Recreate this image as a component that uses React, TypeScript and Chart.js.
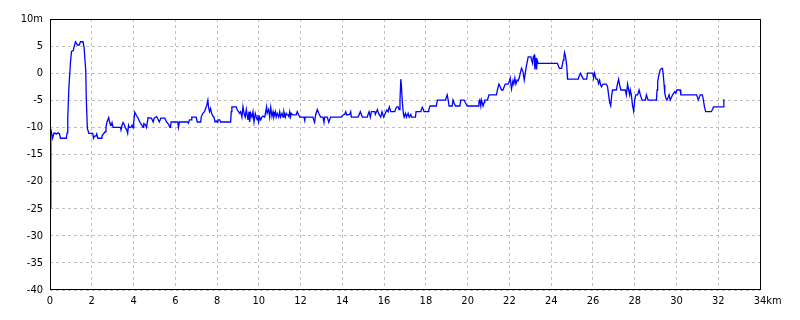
import { useEffect, useRef } from "react";
import { Chart, registerables } from "chart.js";

Chart.register(...registerables);

const distanceKm = [
  0, 0.01, 0.05, 0.12, 0.2, 0.3, 0.4, 0.45, 0.5, 0.78,
  0.82, 0.85, 0.9, 0.98, 1.03, 1.12, 1.15, 1.22, 1.27, 1.31,
  1.4, 1.46, 1.58, 1.63, 1.71, 1.74, 1.79, 1.86, 2.05, 2.08,
  2.13, 2.2, 2.24, 2.29, 2.45, 2.49, 2.56, 2.64, 2.68, 2.73,
  2.77, 2.81, 2.86, 2.9, 2.93, 2.97, 3.02, 3.37, 3.4, 3.45,
  3.5, 3.57, 3.61, 3.68, 3.72, 3.76, 3.8, 3.88, 3.93, 3.98,
  4.01, 4.06, 4.14, 4.22, 4.3, 4.38, 4.46, 4.49, 4.57, 4.62,
  4.7, 4.78, 4.86, 4.94, 4.99, 5.1, 5.15, 5.23, 5.31, 5.5,
  5.58, 5.69, 5.74, 5.77, 5.8, 6.12, 6.15, 6.2, 6.6, 6.63,
  6.68, 6.76, 6.79, 7.0, 7.05, 7.22, 7.24, 7.32, 7.4, 7.45,
  7.51, 7.56, 7.59, 7.64, 7.69, 7.74, 7.8, 7.85, 7.88, 7.91,
  7.96, 8.0, 8.04, 8.12, 8.17, 8.65, 8.68, 8.71, 8.92, 8.96,
  9.03, 9.08, 9.13, 9.19, 9.24, 9.29, 9.35, 9.4, 9.44, 9.48,
  9.53, 9.56, 9.61, 9.67, 9.72, 9.77, 9.83, 9.88, 9.92, 9.96,
  9.99, 10.04, 10.09, 10.15, 10.2, 10.28, 10.33, 10.37, 10.4, 10.47,
  10.52, 10.57, 10.63, 10.68, 10.72, 10.79, 10.83, 10.88, 10.95, 11.0,
  11.04, 11.11, 11.16, 11.2, 11.27, 11.31, 11.36, 11.4, 11.44, 11.48,
  11.52, 11.55, 11.63, 11.79, 11.84, 11.91, 11.96, 12.16, 12.2, 12.22,
  12.59, 12.64, 12.67, 12.72, 12.8, 12.87, 12.91, 12.96, 13.07, 13.12,
  13.15, 13.28, 13.35, 13.39, 13.44, 13.95, 14.03, 14.11, 14.16, 14.21,
  14.35, 14.4, 14.43, 14.75, 14.81, 14.86, 14.91, 14.96, 15.2, 15.23,
  15.28, 15.34, 15.39, 15.55, 15.58, 15.63, 15.68, 15.71, 15.76, 15.84,
  15.9, 15.98, 16.03, 16.08, 16.13, 16.19, 16.25, 16.32, 16.51, 16.54,
  16.61, 16.67, 16.72, 16.76, 16.8, 16.83, 16.87, 16.92, 16.96, 17.02,
  17.07, 17.11, 17.15, 17.2, 17.28, 17.31, 17.5, 17.53, 17.76, 17.78,
  17.83, 17.88, 17.91, 18.11, 18.14, 18.2, 18.5, 18.55, 18.94, 19.02,
  19.07, 19.11, 19.26, 19.3, 19.35, 19.42, 19.63, 19.67, 19.83, 19.9,
  19.98, 20.5, 20.54, 20.58, 20.63, 20.66, 20.7, 20.74, 20.79, 20.82,
  20.95, 21.02, 21.38, 21.43, 21.5, 21.56, 21.62, 21.69, 21.75, 21.8,
  21.94, 21.99, 22.04, 22.1, 22.17, 22.21, 22.26, 22.31, 22.37, 22.42,
  22.47, 22.52, 22.58, 22.65, 22.71, 22.77, 22.82, 22.87, 22.9, 23.03,
  23.06, 23.11, 23.14, 23.19, 23.22, 23.27, 23.3, 23.33, 23.38, 24.3,
  24.34, 24.39, 24.5, 24.53, 24.58, 24.61, 24.64, 24.69, 24.74, 24.77,
  24.78, 25.3, 25.34, 25.41, 25.46, 25.54, 25.7, 25.74, 26.0, 26.03,
  26.08, 26.15, 26.22, 26.27, 26.32, 26.37, 26.41, 26.48, 26.64, 26.7,
  26.75, 26.8, 26.85, 26.9, 26.94, 27.12, 27.18, 27.23, 27.28, 27.34,
  27.55, 27.6, 27.66, 27.71, 27.76, 27.79, 27.84, 27.89, 27.95, 28.0,
  28.05, 28.14, 28.21, 28.27, 28.35, 28.51, 28.56, 28.64, 29.04, 29.07,
  29.1, 29.16, 29.22, 29.28, 29.33, 29.36, 29.41, 29.44, 29.49, 29.54,
  29.6, 29.65, 29.7, 29.76, 29.81, 29.86, 29.92, 29.97, 30.02, 30.18,
  30.21, 30.96, 31.01, 31.04, 31.09, 31.14, 31.24, 31.29, 31.34, 31.4,
  31.66, 31.73, 31.77, 32.24, 32.27,
];

const elevationM = [
  -40, -10, -10.5, -12, -11, -11.2, -11, -11.2, -12, -12,
  -11, -8.3, -3, 2, 4, 4.2, 4.8, 5.8, 5.5, 5.2,
  5.2, 5.8, 5.8, 4.8, 0.6, -5, -10.2, -11.1, -11.1, -12,
  -11.6, -11.6, -11.2, -12, -12, -11.6, -11.2, -10.8, -10, -9,
  -9, -8.2, -9.1, -9.6, -9.6, -9.1, -10, -10, -10.5, -9.6,
  -9.1, -9.6, -10.1, -10.5, -11.1, -9.6, -10, -10, -9.6, -10.1,
  -9, -7.2, -7.8, -8.3, -9, -9.5, -10, -9.3, -9.5, -10,
  -8.2, -8.3, -8.3, -9, -8.3, -8, -8.3, -9, -8.3, -8.3,
  -9, -9.5, -10, -10, -9, -9, -10, -9, -9, -9.2,
  -8.6, -8.6, -8.1, -8.1, -9, -9, -8.1, -7.4, -7.1, -6.5,
  -5.9, -5.0, -6.2, -7.1, -6.5, -7.4, -7.9, -8.1, -8.6, -9,
  -8.8, -9, -8.6, -8.6, -9, -9, -7.1, -6.2, -6.2, -6.7,
  -7.1, -7.4, -7.1, -8.1, -6.2, -7.4, -8.1, -6.7, -7.7, -8.6,
  -7.1, -9, -7.4, -8.1, -7.1, -9, -7.4, -8.1, -8.6, -7.7,
  -9, -8.1, -8.6, -8.1, -7.9, -8.1, -7.1, -6.2, -7.4, -6.7,
  -8.1, -6.3, -8.0, -7.1, -8.1, -7.1, -8.1, -7.4, -8.1, -7.1,
  -8.1, -7.4, -8.1, -7.1, -8.1, -7.4, -7.7, -7.7, -8.0, -7.1,
  -8.0, -7.4, -7.7, -7.7, -7.1, -7.7, -8.1, -8.1, -8.75, -8.1,
  -8.1, -8.75, -9.06, -7.7, -6.7, -7.4, -7.7, -8.1, -8.1, -9.06,
  -8.1, -8.1, -9.06, -8.6, -8.1, -8.1, -7.7, -7.6, -7.1, -7.7,
  -7.6, -7.1, -8.1, -8.1, -7.6, -7.1, -7.6, -8.1, -8.1, -7.6,
  -7.1, -8.1, -7.1, -7.1, -7.6, -7.1, -6.7, -7.1, -7.6, -8.1,
  -7.1, -8.1, -7.6, -7.2, -6.8, -7.1, -6.2, -7.1, -7.1, -6.7,
  -6.2, -6.2, -6.7, -4.95, -1.1, -2.4, -5.3, -7.4, -8.1, -7.4,
  -8.1, -7.7, -7.4, -8.1, -7.6, -8.1, -8.1, -7.1, -7.1, -6.8,
  -6.3, -6.7, -7.1, -7.1, -6.7, -6.05, -6.05, -4.95, -4.95, -4.0,
  -4.95, -6.05, -6.05, -4.95, -5.5, -6.05, -6.05, -4.95, -4.95, -5.5,
  -6.05, -6.05, -5.3, -4.95, -6.05, -4.95, -5.5, -6.05, -5.4, -4.95,
  -4.95, -4.0, -4.0, -3.0, -2.0, -2.5, -3.1, -3.1, -2.5, -2.0,
  -2.0, -1.6, -0.9, -2.9, -1.4, -2.0, -0.9, -2.0, -1.25, -1.4,
  -0.9, 0, 0.9, 0.3, -1.25, 0.3, 1.5, 2.4, 3.0, 3.0,
  2.4, 1.8, 3.0, 3.3, 0.7, 2.8, 0.7, 2.4, 1.8, 1.8,
  1.4, 0.9, 0.9, 1.5, 2.4, 3.0, 3.8, 3.0, 1.5, 0,
  -1.1, -1.1, -0.5, 0, -0.5, -1.1, -1.1, 0, 0, -0.9,
  0, -1.1, -1.1, -1.9, -1.3, -2.2, -2.5, -2.0, -2.0, -2.5,
  -4.0, -5.4, -6.0, -4.0, -3.1, -3.1, -1.9, -1.1, -2.2, -3.1,
  -3.1, -4.0, -2.0, -3.1, -4.0, -3.1, -4.0, -5.8, -7.0, -5.0,
  -4.0, -4.0, -3.1, -4.0, -4.95, -4.95, -4.0, -4.95, -4.95, -3.1,
  -1.56, -0.33, 0.6, 0.9, 0.9, 0, -2.2, -3.7, -4.6, -4.95,
  -4.5, -4.0, -4.95, -4.5, -4.0, -3.7, -3.4, -3.7, -3.1, -3.1,
  -4.0, -4.0, -4.5, -4.95, -4.5, -4.0, -4.0, -4.95, -6.2, -7.1,
  -7.1, -6.7, -6.2, -6.2, -4.8,
];

// Short black trace at the start of the profile
const startMarkKm = [0.02, 0.02];
const startMarkM = [-25, -11];

const xMin = 0;
const xMax = 34;
const xStep = 2;
const yMin = -40;
const yMax = 10;
const yStep = 5;
const xUnit = "km";
const yUnit = "m";

const FONT_FAMILY = '"Liberation Sans Narrow", "DejaVu Sans Condensed", "Liberation Sans", sans-serif';
const FONT_SIZE = 11;
const X_TICK_PAD = 5;

export default function App() {
  const ref = useRef<HTMLCanvasElement>(null);

  useEffect(() => {
    if (!ref.current) return;

    const framePlugin = {
      id: "frame",
      afterDatasetsDraw(chart: any) {
        const { ctx, chartArea: a } = chart;
        ctx.save();
        ctx.strokeStyle = "#000000";
        ctx.lineWidth = 1;
        ctx.strokeRect(
          Math.round(a.left) + 0.5,
          Math.round(a.top) + 0.5,
          Math.round(a.right - a.left),
          Math.round(a.bottom - a.top) - 1
        );
        ctx.restore();
      },
      afterDraw(chart: any) {
        const ctx = chart.ctx;
        const xs = chart.scales.x;
        ctx.save();
        ctx.font = `${FONT_SIZE}px ${FONT_FAMILY}`;
        ctx.fillStyle = "#000000";
        ctx.textAlign = "left";
        ctx.textBaseline = "middle";
        const lastLabel = String(xMax);
        const w = ctx.measureText(lastLabel).width;
        const px = xs.getPixelForValue(xMax) + w / 2;
        const lineH = FONT_SIZE * 1.2;
        ctx.fillText(xUnit, px, xs.top + X_TICK_PAD + lineH / 2);
        ctx.restore();
      },
    };

    const chart = new Chart(ref.current, {
      type: "line",
      data: {
        datasets: [
          {
            label: "start",
            data: startMarkKm.map((x, i) => ({ x, y: startMarkM[i] })),
            borderColor: "#000000",
            borderWidth: 2,
            pointRadius: 0,
            tension: 0,
            fill: false,
          },
          {
            label: "elevation",
            data: distanceKm.map((x, i) => ({ x, y: elevationM[i] })),
            borderColor: "#0000ff",
            borderWidth: 1.3,
            pointRadius: 0,
            tension: 0,
            fill: false,
          },
        ],
      },
      options: {
        animation: false,
        responsive: false,
        maintainAspectRatio: false,
        layout: { padding: { left: 0, right: 40, top: 19, bottom: 0 } },
        plugins: {
          legend: { display: false },
          tooltip: { enabled: false },
          title: { display: false },
        },
        scales: {
          x: {
            type: "linear",
            min: xMin,
            max: xMax,
            ticks: {
              stepSize: xStep,
              color: "#000000",
              padding: X_TICK_PAD,
              maxRotation: 0,
              autoSkip: false,
              font: { family: FONT_FAMILY, size: FONT_SIZE },
              callback: (v: any) => String(v),
            },
            grid: { color: "#c0c0c0", lineWidth: 1, drawTicks: false },
            border: { display: false, dash: [3, 3] },
            afterFit: (s: any) => {
              s.height = 30;
            },
          },
          y: {
            type: "linear",
            min: yMin,
            max: yMax,
            ticks: {
              stepSize: yStep,
              color: "#000000",
              padding: 7,
              autoSkip: false,
              font: { family: FONT_FAMILY, size: FONT_SIZE },
              callback: (v: any) => (Number(v) === yMax ? `${v}${yUnit}` : String(v)),
            },
            grid: { color: "#c0c0c0", lineWidth: 1, drawTicks: false },
            border: { display: false, dash: [3, 3] },
            afterFit: (s: any) => {
              s.width = 50;
            },
          },
        },
      },
      plugins: [framePlugin],
    });

    return () => chart.destroy();
  }, []);

  return (
    <div style={{ position: "fixed", left: 0, top: 0, width: 800, height: 320, background: "#ffffff" }}>
      <canvas ref={ref} width={800} height={320} style={{ width: 800, height: 320, display: "block" }} />
    </div>
  );
}
